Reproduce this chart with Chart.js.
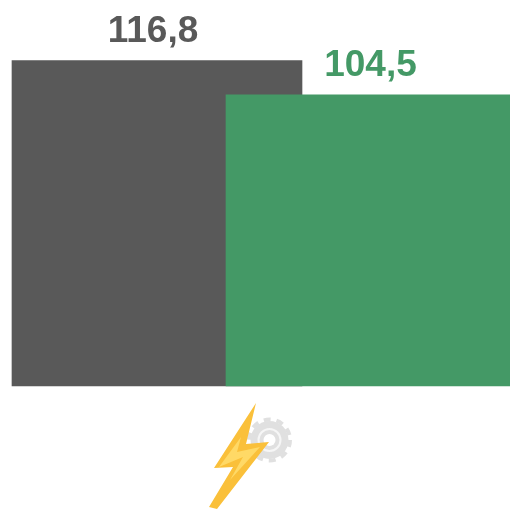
<!DOCTYPE html>
<html>
<head>
<meta charset="utf-8">
<style>
  html, body { margin: 0; padding: 0; background: #fff; }
  #wrap { position: relative; width: 510px; height: 509px; overflow: hidden; }
  #icon { position: absolute; left: 190px; top: 390px; }
</style>
</head>
<body>
<div id="wrap">
  <canvas id="chart" width="510" height="509"></canvas>
  <svg id="icon" width="120" height="119" viewBox="190 390 120 119" xmlns="http://www.w3.org/2000/svg">
    <!-- gear -->
    <circle cx="269.5" cy="440" r="20.5" fill="none" stroke="#e0e0e0" stroke-width="4" stroke-dasharray="7 5.88"/>
    <circle cx="269.5" cy="440" r="19" fill="#e0e0e0"/>
    <circle cx="269.5" cy="440" r="11" fill="none" stroke="#f6f6f6" stroke-width="2"/>
    <circle cx="269.5" cy="440" r="6" fill="#fff"/>
    <!-- bolt -->
    <polygon points="256,403 214,468 233,467 209,507 217,509 269,442 246,444" fill="#fac03a"/>
    <polygon points="241,437 219,467 243,457 230,480 260,447 237,452" fill="#ffd966"/>
  </svg>
</div>
<script src="https://cdn.jsdelivr.net/npm/chart.js@4"></script>
<script>
const categories = ["A", "B"];
const greyValues = [116.8, null];
const greenValues = [null, 104.5];
const yMax = 138.5;

const GREY = "#595959";
const GREEN = "#449966";

// value labels above each bar, decimal comma like the original
const valueLabels = {
  id: "valueLabels",
  afterDatasetsDraw(chart) {
    const ctx = chart.ctx;
    chart.data.datasets.forEach((ds, i) => {
      chart.getDatasetMeta(i).data.forEach((bar, j) => {
        if (ds.data[j] == null) return;
        ctx.save();
        ctx.font = 'bold 37px "Liberation Sans", Arial, sans-serif';
        ctx.fillStyle = ds.backgroundColor;
        ctx.textAlign = "center";
        ctx.textBaseline = "alphabetic";
        ctx.fillText(String(ds.data[j]).replace(".", ","), bar.x + ds.labelShift, bar.y - 18.5);
        ctx.restore();
      });
    });
  }
};

new Chart(document.getElementById("chart").getContext("2d"), {
  type: "bar",
  data: {
    labels: categories,
    datasets: [
      { data: greyValues, backgroundColor: GREY, barThickness: 290, clip: false, labelShift: -4, order: 2 },
      { data: greenValues, backgroundColor: GREEN, barThickness: 284, clip: false, labelShift: 2.5, order: 1 }
    ]
  },
  options: {
    responsive: false,
    animation: false,
    grouped: false,
    layout: { padding: { left: 51.5, right: 36.5, top: 0, bottom: 123 } },
    plugins: { legend: { display: false }, tooltip: { enabled: false } },
    scales: {
      x: { display: false },
      y: { display: false, min: 0, max: yMax }
    }
  },
  plugins: [valueLabels]
});
</script>
</body>
</html>
